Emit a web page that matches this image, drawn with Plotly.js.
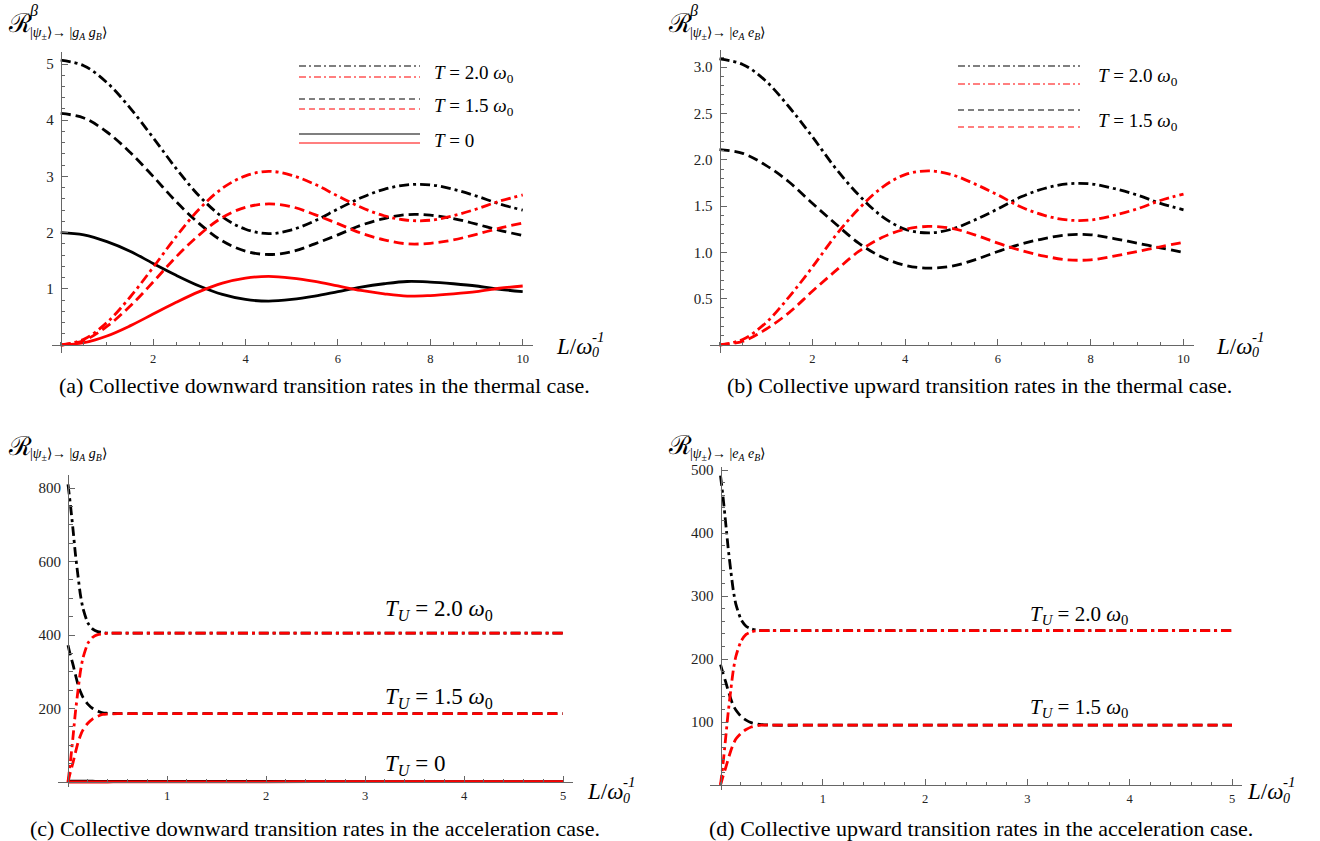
<!DOCTYPE html>
<html><head><meta charset="utf-8">
<script src="https://cdn.plot.ly/plotly-3.0.1.min.js"></script>
<style>body{margin:0;background:#fff}#chart{width:1320px;height:841px}</style>
</head><body><div id="chart"></div>
<script>
// ---------- data ----------
const L_thermal = [0,0.5,1,1.5,2,2.5,3,3.5,4,4.5,5,5.5,6,6.5,7,7.5,8,8.5,9,9.5,10];

const a_T20_black = [5.07,4.97,4.67,4.22,3.69,3.14,2.65,2.28,2.06,1.98,2.05,2.21,2.42,2.62,2.77,2.85,2.85,2.77,2.65,2.51,2.40];
const a_T20_red   = [0,0.10,0.40,0.85,1.38,1.93,2.42,2.79,3.01,3.09,3.02,2.86,2.65,2.45,2.30,2.22,2.22,2.30,2.42,2.56,2.67];
const a_T15_black = [4.12,4.04,3.79,3.43,3.00,2.55,2.16,1.85,1.67,1.61,1.66,1.80,1.96,2.13,2.25,2.32,2.31,2.25,2.15,2.04,1.95];
const a_T15_red   = [0,0.08,0.33,0.69,1.12,1.57,1.96,2.27,2.45,2.51,2.46,2.32,2.16,1.99,1.87,1.80,1.81,1.87,1.97,2.08,2.17];
const a_T0_black  = [2.00,1.96,1.84,1.67,1.45,1.24,1.05,0.90,0.81,0.78,0.81,0.87,0.95,1.03,1.09,1.13,1.12,1.09,1.05,0.99,0.95];
const a_T0_red    = [0,0.04,0.16,0.34,0.55,0.76,0.95,1.10,1.19,1.22,1.19,1.13,1.05,0.97,0.91,0.87,0.88,0.91,0.95,1.01,1.05];

const b_T20_black = [3.09,3.03,2.85,2.57,2.25,1.91,1.62,1.39,1.25,1.21,1.25,1.35,1.47,1.60,1.69,1.74,1.74,1.69,1.62,1.53,1.46];
const b_T20_red   = [0,0.06,0.24,0.52,0.84,1.18,1.47,1.70,1.84,1.88,1.84,1.74,1.62,1.49,1.40,1.35,1.35,1.40,1.47,1.56,1.63];
const b_T15_black = [2.11,2.07,1.94,1.76,1.53,1.31,1.10,0.95,0.86,0.83,0.85,0.92,1.01,1.09,1.15,1.19,1.19,1.15,1.10,1.05,1.00];
const b_T15_red   = [0,0.04,0.17,0.35,0.58,0.80,1.01,1.16,1.25,1.28,1.26,1.19,1.10,1.02,0.96,0.92,0.92,0.96,1.01,1.06,1.11];

const L_accel = [0,0.025,0.05,0.075,0.1,0.125,0.15,0.2,0.25,0.3,0.35,0.4,0.5,1,2,3,4,5];

const c_T20_black = [810,753,689,620,563,510,474,433,416,409,407,405,405,405,405,405,405,405];
const c_T20_red   = [0,57,121,190,247,300,336,377,394,401,403,405,405,405,405,405,405,405];
const c_T15_black = [372,344,320,292,266,246,231,212,200,193,188,187,186,186,186,186,186,186];
const c_T15_red   = [0,28,52,80,106,126,141,160,172,179,184,185,186,186,186,186,186,186];
const c_T0_black  = [2,2,2,2,2,1.99,1.99,1.99,1.98,1.97,1.96,1.95,1.92,1.84,1.45,1.05,0.81,0.81];
const c_T0_red    = [0,0,0,0,0,0.01,0.01,0.01,0.02,0.03,0.04,0.05,0.08,0.16,0.55,0.95,1.19,1.19];

const d_T20_black = [491,457,417,376,341,309,287,263,252,248,246,245,245,245,245,245,245,245];
const d_T20_red   = [0,34,74,115,150,182,204,228,239,243,245,245,245,245,245,245,245,245];
const d_T15_black = [191,177,164,150,137,126,119,109,103,99,97,96,95,95,95,95,95,95];
const d_T15_red   = [0,14,27,41,54,65,73,82,88,92,94,95,95,95,95,95,95,95];

const ticks_x_thermal = [2,4,6,8,10];
const ticks_y_a = [1,2,3,4,5];
const ticks_y_b = [0.5,1.0,1.5,2.0,2.5,3.0];
const ticklabels_y_b = ["0.5","1.0","1.5","2.0","2.5","3.0"];
const ticks_x_accel = [1,2,3,4,5];
const ticks_y_c = [200,400,600,800];
const ticks_y_d = [100,200,300,400,500];

const captions = [
  "(a) Collective downward transition rates in the thermal case.",
  "(b) Collective upward transition rates in the thermal case.",
  "(c) Collective downward transition rates in the acceleration case.",
  "(d) Collective upward transition rates in the acceleration case."
];

// ---------- layout helpers ----------
const W = 1320, H = 841;
const BLACK = '#000000', RED = '#ff0000';
const DASH = '10px,5px', DASHDOT = '10px,4px,3px,4px';
const FONT = 'Liberation Serif, Times New Roman, serif';
const AX = '#666';

const P = {
  a:{x0:60.7, sx:46.2, left:52,  right:533,  y0:345, sy:56.2,   top:52,  bottom:353},
  b:{x0:719.5,sx:46.4, left:710, right:1194, y0:345, sy:92.6,   top:50,  bottom:353},
  c:{x0:68,   sx:99,   left:57.5,right:573,  y0:782, sy:0.3675, top:475, bottom:787},
  d:{x0:720.5,sx:102.3,left:710, right:1242, y0:785, sy:0.63,   top:467, bottom:790}
};

function xAxis(p, tickvals, minorDt) {
  return {
    domain:[p.left/W, p.right/W],
    range:[(p.left-p.x0)/p.sx, (p.right-p.x0)/p.sx],
    anchor:'free', position:1 - p.y0/H,
    showgrid:false, zeroline:false, showline:true, linecolor:AX, linewidth:1,
    ticks:'inside', ticklen:6, tickwidth:1, tickcolor:AX,
    tickmode:'array', tickvals:tickvals, ticklabelstandoff:2,
    tickfont:{family:FONT, size:12.5, color:'#222'},
    minor:{tickmode:'linear', tick0:0, dtick:minorDt, ticks:'inside', ticklen:3.5, tickwidth:1, tickcolor:AX, showgrid:false},
    fixedrange:true
  };
}
function yAxis(p, tickvals, ticktext, minorDt, size) {
  const ax = {
    domain:[1 - p.bottom/H, 1 - p.top/H],
    range:[(p.y0-p.bottom)/p.sy, (p.y0-p.top)/p.sy],
    anchor:'free', position:p.x0/W,
    showgrid:false, zeroline:false, showline:true, linecolor:AX, linewidth:1,
    ticks:'inside', ticklen:6, tickwidth:1, tickcolor:AX,
    tickmode:'array', tickvals:tickvals, ticklabelstandoff:4,
    tickfont:{family:FONT, size:size, color:'#222'},
    minor:{tickmode:'linear', tick0:0, dtick:minorDt, ticks:'inside', ticklen:3.5, tickwidth:1, tickcolor:AX, showgrid:false},
    fixedrange:true
  };
  if (ticktext) ax.ticktext = ticktext;
  return ax;
}

function tr(x, y, xa, ya, color, dash, smoothing) {
  return {x:x, y:y, xaxis:xa, yaxis:ya, type:'scatter', mode:'lines', showlegend:false, hoverinfo:'skip',
          line:{color:color, width:2.8, dash:dash, shape:'spline', smoothing:smoothing}};
}

const data = [
  tr(L_thermal, a_T20_black, 'x','y', BLACK, DASHDOT, 1),
  tr(L_thermal, a_T15_black, 'x','y', BLACK, DASH, 1),
  tr(L_thermal, a_T0_black,  'x','y', BLACK, 'solid', 1),
  tr(L_thermal, a_T20_red,   'x','y', RED, DASHDOT, 1),
  tr(L_thermal, a_T15_red,   'x','y', RED, DASH, 1),
  tr(L_thermal, a_T0_red,    'x','y', RED, 'solid', 1),

  tr(L_thermal, b_T20_black, 'x2','y2', BLACK, DASHDOT, 1),
  tr(L_thermal, b_T15_black, 'x2','y2', BLACK, DASH, 1),
  tr(L_thermal, b_T20_red,   'x2','y2', RED, DASHDOT, 1),
  tr(L_thermal, b_T15_red,   'x2','y2', RED, DASH, 1),

  tr(L_accel, c_T20_black, 'x3','y3', BLACK, DASHDOT, 0.6),
  tr(L_accel, c_T15_black, 'x3','y3', BLACK, DASH, 0.6),
  tr(L_accel, c_T0_black,  'x3','y3', BLACK, 'solid', 0.6),
  tr(L_accel, c_T20_red,   'x3','y3', RED, DASHDOT, 0.6),
  tr(L_accel, c_T15_red,   'x3','y3', RED, DASH, 0.6),
  tr(L_accel, c_T0_red,    'x3','y3', RED, 'solid', 0.6),

  tr(L_accel, d_T20_black, 'x4','y4', BLACK, DASHDOT, 0.6),
  tr(L_accel, d_T15_black, 'x4','y4', BLACK, DASH, 0.6),
  tr(L_accel, d_T20_red,   'x4','y4', RED, DASHDOT, 0.6),
  tr(L_accel, d_T15_red,   'x4','y4', RED, DASH, 0.6)
];

// annotations in pixel coordinates
const anns = [];
function ann(x, y, text, size, xanchor) {
  anns.push({xref:'paper', yref:'paper', x:x/W, y:1 - y/H, text:text, showarrow:false,
             xanchor:xanchor || 'left', yanchor:'middle', font:{family:FONT, size:size, color:'#000'}});
}
// legend lines
const shapes = [];
function seg(x1, x2, y, color, dash) {
  shapes.push({type:'line', xref:'paper', yref:'paper', x0:x1/W, x1:x2/W, y0:1 - y/H, y1:1 - y/H,
               line:{color:color, width:1.2, dash:dash}});
}
const LDASH = '6px,4px', LDASHDOT = '7px,3px,2px,3px';
// (a) legend
seg(299, 420, 66, BLACK, LDASHDOT); seg(299, 420, 77, RED, LDASHDOT);
seg(299, 420, 99, BLACK, LDASH);    seg(299, 420, 109, RED, LDASH);
seg(299, 420, 134, BLACK, 'solid'); seg(299, 420, 143, RED, 'solid');
ann(432, 74, '<i>T</i> = 2.0 <i>ω</i><sub>0</sub>', 19);
ann(432, 107, '<i>T</i> = 1.5 <i>ω</i><sub>0</sub>', 19);
ann(432, 141, '<i>T</i> = 0', 19);
// (b) legend
seg(958, 1080, 66, BLACK, LDASHDOT); seg(958, 1080, 84, RED, LDASHDOT);
seg(958, 1080, 110, BLACK, LDASH);   seg(958, 1080, 127, RED, LDASH);
ann(1096, 77, '<i>T</i> = 2.0 <i>ω</i><sub>0</sub>', 19);
ann(1096, 122, '<i>T</i> = 1.5 <i>ω</i><sub>0</sub>', 19);
// (c)/(d) curve labels
ann(383, 610, '<i>T</i><sub><i>U</i></sub> = 2.0 <i>ω</i><sub>0</sub>', 23);
ann(383, 698, '<i>T</i><sub><i>U</i></sub> = 1.5 <i>ω</i><sub>0</sub>', 23);
ann(383, 765, '<i>T</i><sub><i>U</i></sub> = 0', 23);
ann(1028, 615, '<i>T</i><sub><i>U</i></sub> = 2.0 <i>ω</i><sub>0</sub>', 21);
ann(1028, 708, '<i>T</i><sub><i>U</i></sub> = 1.5 <i>ω</i><sub>0</sub>', 21);
// axis titles L/ω0^-1
function xlab(x, y) {
  ann(x, y, '<i>L</i>/<i>ω</i>', 23);
  ann(x + 36, y + 7, '<i>0</i>', 14);
  ann(x + 36, y - 9, '-<i>1</i>', 15);
}
xlab(554, 346); xlab(1214, 346); xlab(585, 791); xlab(1245, 791);
// y titles
function ylab(x, y, beta, sub) {
  ann(x - 2, y, 'ℛ', 26);
  if (beta) ann(x + 19, y - 13, '<i>β</i>', 16);
  ann(x + 20, y + 9, sub, 14);
}
const subG = '|<i>ψ</i><sub>±</sub>⟩→ |<i>g</i><sub><i>A</i></sub> <i>g</i><sub><i>B</i></sub>⟩';
const subE = '|<i>ψ</i><sub>±</sub>⟩→ |<i>e</i><sub><i>A</i></sub> <i>e</i><sub><i>B</i></sub>⟩';
ylab(8, 24, true, subG);
ylab(668, 24, true, subE);
ylab(8, 446, false, subG);
ylab(668, 445, false, subE);
// captions
ann(324, 386, captions[0], 22, 'center');
ann(979, 386, captions[1], 22, 'center');
ann(315, 828, captions[2], 22, 'center');
ann(981, 828, captions[3], 22, 'center');

const layout = {
  width:W, height:H, margin:{l:0,r:0,t:0,b:0}, paper_bgcolor:'#fff', plot_bgcolor:'rgba(0,0,0,0)',
  showlegend:false,
  xaxis: xAxis(P.a, ticks_x_thermal, 0.5),
  yaxis: yAxis(P.a, ticks_y_a, null, 0.2, 15),
  xaxis2: xAxis(P.b, ticks_x_thermal, 0.5),
  yaxis2: yAxis(P.b, ticks_y_b, ticklabels_y_b, 0.1, 15),
  xaxis3: xAxis(P.c, ticks_x_accel, 0.2),
  yaxis3: yAxis(P.c, ticks_y_c, null, 50, 15),
  xaxis4: xAxis(P.d, ticks_x_accel, 0.2),
  yaxis4: yAxis(P.d, ticks_y_d, null, 20, 15),
  annotations: anns,
  shapes: shapes
};

Plotly.newPlot('chart', data, layout, {staticPlot:true, displayModeBar:false});
</script>
</body></html>
